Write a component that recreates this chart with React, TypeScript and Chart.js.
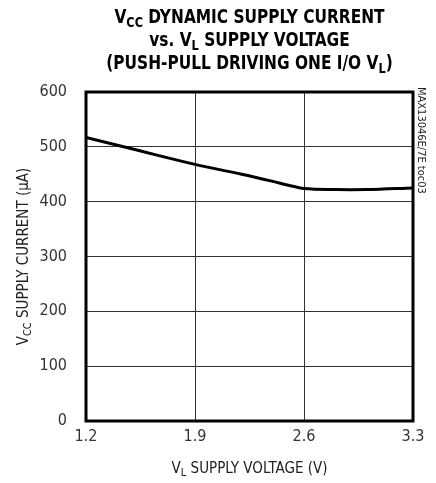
import React, { useEffect, useRef } from "react";
import { Chart, registerables } from "chart.js";

Chart.register(...registerables);

const voltage = [1.2, 1.5, 1.9, 2.2, 2.4, 2.5, 2.6, 2.8, 3.0, 3.3];
const current = [517, 496, 468, 450, 437, 430, 424, 422, 422, 425];
const xTicks = [1.2, 1.9, 2.6, 3.3];
const yTicks = [0, 100, 200, 300, 400, 500, 600];

const FONT = '"Liberation Sans Narrow", "DejaVu Sans Condensed", "Arial Narrow", sans-serif';

type Seg = { t: string; sub?: boolean };

function drawSegs(ctx: CanvasRenderingContext2D, segs: Seg[], cx: number, cy: number, size: number, weight: string, color: string, sx = 1) {
  const main = `${weight} ${size}px ${FONT}`;
  const small = `${weight} ${Math.round(size * 0.72)}px ${FONT}`;
  let total = 0;
  for (const s of segs) {
    ctx.font = s.sub ? small : main;
    total += ctx.measureText(s.t).width;
  }
  ctx.save();
  ctx.translate(cx, cy);
  ctx.scale(sx, 1);
  let x = -total / 2;
  ctx.fillStyle = color;
  ctx.textBaseline = "alphabetic";
  ctx.textAlign = "left";
  for (const s of segs) {
    ctx.font = s.sub ? small : main;
    ctx.fillText(s.t, x, s.sub ? size * 0.22 : 0);
    x += ctx.measureText(s.t).width;
  }
  ctx.restore();
}

const decor = {
  id: "decor",
  afterDraw(chart: any) {
    const ctx: CanvasRenderingContext2D = chart.ctx;
    const a = chart.chartArea;
    ctx.save();
    // frame
    ctx.strokeStyle = "#000";
    ctx.lineWidth = 3;
    ctx.strokeRect(a.left, a.top, a.right - a.left, a.bottom - a.top);
    // title
    const cx = (a.left + a.right) / 2;
    drawSegs(ctx, [{ t: "V" }, { t: "CC", sub: true }, { t: " DYNAMIC SUPPLY CURRENT" }], cx, 23, 19, "bold", "#000", 0.9);
    drawSegs(ctx, [{ t: "vs. V" }, { t: "L", sub: true }, { t: " SUPPLY VOLTAGE" }], cx, 46, 19, "bold", "#000", 0.9);
    drawSegs(ctx, [{ t: "(PUSH-PULL DRIVING ONE I/O V" }, { t: "L", sub: true }, { t: ")" }], cx, 69, 19, "bold", "#000", 0.9);
    // x title
    drawSegs(ctx, [{ t: "V" }, { t: "L", sub: true }, { t: " SUPPLY VOLTAGE (V)" }], cx, 473, 15, "normal", "#222");
    // y title
    ctx.save();
    ctx.translate(28, (a.top + a.bottom) / 2);
    ctx.rotate(-Math.PI / 2);
    drawSegs(ctx, [{ t: "V" }, { t: "CC", sub: true }, { t: " SUPPLY CURRENT (\u00B5A)" }], 0, 0, 15, "normal", "#222");
    ctx.restore();
    // side label
    ctx.save();
    ctx.translate(421, a.top - 5);
    ctx.rotate(Math.PI / 2);
    ctx.font = `11px ${FONT}`;
    ctx.fillStyle = "#222";
    ctx.textAlign = "left";
    ctx.textBaseline = "middle";
    ctx.fillText("MAX13046E/7E toc03", 0, 0);
    ctx.restore();
    ctx.restore();
  },
};

export default function App() {
  const ref = useRef<HTMLCanvasElement>(null);
  useEffect(() => {
    if (!ref.current) return;
    const chart = new Chart(ref.current, {
      type: "line",
      data: {
        datasets: [
          {
            data: voltage.map((v, i) => ({ x: v, y: current[i] })),
            borderColor: "#000",
            borderWidth: 3,
            pointRadius: 0,
            tension: 0.35,
            fill: false,
          },
        ],
      },
      options: {
        animation: false,
        responsive: false,
        layout: { padding: { left: 0, top: 92, right: 23, bottom: 0 } },
        plugins: { legend: { display: false }, title: { display: false }, tooltip: { enabled: false } },
        scales: {
          x: {
            type: "linear",
            min: 1.2,
            max: 3.3,
            afterBuildTicks: (s: any) => {
              s.ticks = xTicks.map((v) => ({ value: v }));
            },
            afterFit: (s: any) => {
              s.height = 62;
            },
            grid: { color: "#333", lineWidth: 1, drawTicks: false },
            border: { display: false },
            ticks: {
              padding: 6,
              color: "#333",
              font: { family: FONT, size: 16 },
              callback: (v: any) => Number(v).toFixed(1),
              maxRotation: 0,
            },
          },
          y: {
            min: 0,
            max: 600,
            afterBuildTicks: (s: any) => {
              s.ticks = yTicks.map((v) => ({ value: v }));
            },
            afterFit: (s: any) => {
              s.width = 86;
            },
            grid: { color: "#333", lineWidth: 1, drawTicks: false },
            border: { display: false },
            ticks: {
              padding: 19,
              color: "#333",
              font: { family: FONT, size: 16 },
            },
          },
        },
      },
      plugins: [decor],
    } as any);
    return () => chart.destroy();
  }, []);
  return (
    <div style={{ position: "fixed", left: 0, top: 0, width: 436, height: 483, background: "#fff" }}>
      <canvas ref={ref} width={436} height={483} style={{ width: 436, height: 483, display: "block" }} />
    </div>
  );
}
